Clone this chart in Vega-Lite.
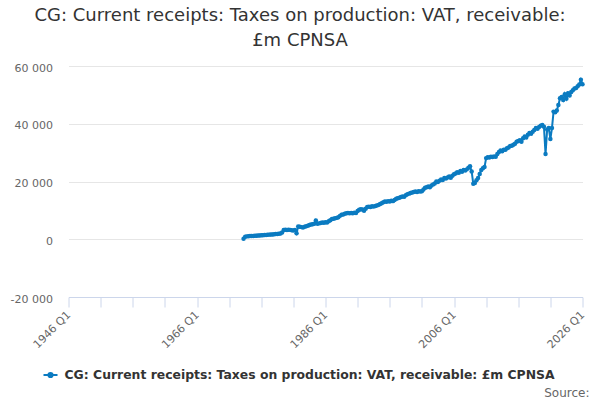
{
  "$schema": "https://vega.github.io/schema/vega-lite/v6.json",
  "autosize": {"type": "none"},
  "width": 514,
  "height": 231,
  "padding": {"left": 68.5, "top": 66, "right": 17.5, "bottom": 103},
  "background": "#ffffff",
  "config": {
    "font": "DejaVu Sans",
    "view": {"stroke": null}
  },
  "title": {
    "text": ["CG: Current receipts: Taxes on production: VAT, receivable:", "£m CPNSA"],
    "anchor": "middle",
    "frame": "group",
    "dx": -25.5,
    "offset": 12,
    "fontSize": 18,
    "fontWeight": "normal",
    "lineHeight": 25,
    "color": "#333333"
  },
  "data": {
    "values": [
      {"d": "1973-04-01", "v": 200}, {"d": "1973-07-01", "v": 900}, {"d": "1973-10-01", "v": 1000},
      {"d": "1974-01-01", "v": 1050}, {"d": "1974-04-01", "v": 1100}, {"d": "1974-07-01", "v": 1150}, {"d": "1974-10-01", "v": 1100},
      {"d": "1975-01-01", "v": 1200}, {"d": "1975-04-01", "v": 1250}, {"d": "1975-07-01", "v": 1300}, {"d": "1975-10-01", "v": 1300},
      {"d": "1976-01-01", "v": 1350}, {"d": "1976-04-01", "v": 1400}, {"d": "1976-07-01", "v": 1450}, {"d": "1976-10-01", "v": 1450},
      {"d": "1977-01-01", "v": 1550}, {"d": "1977-04-01", "v": 1600}, {"d": "1977-07-01", "v": 1650}, {"d": "1977-10-01", "v": 1650},
      {"d": "1978-01-01", "v": 1750}, {"d": "1978-04-01", "v": 1800}, {"d": "1978-07-01", "v": 1850}, {"d": "1978-10-01", "v": 1900},
      {"d": "1979-01-01", "v": 2000}, {"d": "1979-04-01", "v": 2300}, {"d": "1979-07-01", "v": 3200}, {"d": "1979-10-01", "v": 3300},
      {"d": "1980-01-01", "v": 3200}, {"d": "1980-04-01", "v": 3300}, {"d": "1980-07-01", "v": 3250}, {"d": "1980-10-01", "v": 3100},
      {"d": "1981-01-01", "v": 3000}, {"d": "1981-04-01", "v": 3200}, {"d": "1981-07-01", "v": 2100}, {"d": "1981-10-01", "v": 4400},
      {"d": "1982-01-01", "v": 4300}, {"d": "1982-04-01", "v": 4200}, {"d": "1982-07-01", "v": 4100}, {"d": "1982-10-01", "v": 4300},
      {"d": "1983-01-01", "v": 4500}, {"d": "1983-04-01", "v": 4700}, {"d": "1983-07-01", "v": 4900}, {"d": "1983-10-01", "v": 5100},
      {"d": "1984-01-01", "v": 5200}, {"d": "1984-04-01", "v": 5400}, {"d": "1984-07-01", "v": 6500}, {"d": "1984-10-01", "v": 5400},
      {"d": "1985-01-01", "v": 5500}, {"d": "1985-04-01", "v": 5600}, {"d": "1985-07-01", "v": 5800}, {"d": "1985-10-01", "v": 5700},
      {"d": "1986-01-01", "v": 5900}, {"d": "1986-04-01", "v": 5800}, {"d": "1986-07-01", "v": 6200}, {"d": "1986-10-01", "v": 6600},
      {"d": "1987-01-01", "v": 7000}, {"d": "1987-04-01", "v": 7100}, {"d": "1987-07-01", "v": 7300}, {"d": "1987-10-01", "v": 7400},
      {"d": "1988-01-01", "v": 7600}, {"d": "1988-04-01", "v": 8100}, {"d": "1988-07-01", "v": 8500}, {"d": "1988-10-01", "v": 8600},
      {"d": "1989-01-01", "v": 8800}, {"d": "1989-04-01", "v": 9000}, {"d": "1989-07-01", "v": 9100}, {"d": "1989-10-01", "v": 9000},
      {"d": "1990-01-01", "v": 9100}, {"d": "1990-04-01", "v": 9000}, {"d": "1990-07-01", "v": 9200}, {"d": "1990-10-01", "v": 9100},
      {"d": "1991-01-01", "v": 9800}, {"d": "1991-04-01", "v": 10200}, {"d": "1991-07-01", "v": 10400}, {"d": "1991-10-01", "v": 10300},
      {"d": "1992-01-01", "v": 9900}, {"d": "1992-04-01", "v": 10600}, {"d": "1992-07-01", "v": 11200}, {"d": "1992-10-01", "v": 11300},
      {"d": "1993-01-01", "v": 11200}, {"d": "1993-04-01", "v": 11400}, {"d": "1993-07-01", "v": 11300}, {"d": "1993-10-01", "v": 11500},
      {"d": "1994-01-01", "v": 11700}, {"d": "1994-04-01", "v": 11900}, {"d": "1994-07-01", "v": 12200}, {"d": "1994-10-01", "v": 12500},
      {"d": "1995-01-01", "v": 12800}, {"d": "1995-04-01", "v": 13100}, {"d": "1995-07-01", "v": 13000}, {"d": "1995-10-01", "v": 13200},
      {"d": "1996-01-01", "v": 13100}, {"d": "1996-04-01", "v": 13300}, {"d": "1996-07-01", "v": 13200}, {"d": "1996-10-01", "v": 13600},
      {"d": "1997-01-01", "v": 14000}, {"d": "1997-04-01", "v": 14200}, {"d": "1997-07-01", "v": 14400}, {"d": "1997-10-01", "v": 14600},
      {"d": "1998-01-01", "v": 14800}, {"d": "1998-04-01", "v": 14700}, {"d": "1998-07-01", "v": 15200}, {"d": "1998-10-01", "v": 15600},
      {"d": "1999-01-01", "v": 15800}, {"d": "1999-04-01", "v": 16000}, {"d": "1999-07-01", "v": 16200}, {"d": "1999-10-01", "v": 16400},
      {"d": "2000-01-01", "v": 16500}, {"d": "2000-04-01", "v": 16400}, {"d": "2000-07-01", "v": 16600}, {"d": "2000-10-01", "v": 16500},
      {"d": "2001-01-01", "v": 16600}, {"d": "2001-04-01", "v": 17200}, {"d": "2001-07-01", "v": 17800}, {"d": "2001-10-01", "v": 18000},
      {"d": "2002-01-01", "v": 18300}, {"d": "2002-04-01", "v": 18000}, {"d": "2002-07-01", "v": 18600}, {"d": "2002-10-01", "v": 19000},
      {"d": "2003-01-01", "v": 19300}, {"d": "2003-04-01", "v": 20000}, {"d": "2003-07-01", "v": 19800}, {"d": "2003-10-01", "v": 20300},
      {"d": "2004-01-01", "v": 20700}, {"d": "2004-04-01", "v": 20500}, {"d": "2004-07-01", "v": 21200}, {"d": "2004-10-01", "v": 21000},
      {"d": "2005-01-01", "v": 21400}, {"d": "2005-04-01", "v": 21700}, {"d": "2005-07-01", "v": 21300}, {"d": "2005-10-01", "v": 22000},
      {"d": "2006-01-01", "v": 22500}, {"d": "2006-04-01", "v": 22800}, {"d": "2006-07-01", "v": 23200}, {"d": "2006-10-01", "v": 23000},
      {"d": "2007-01-01", "v": 23600}, {"d": "2007-04-01", "v": 23400}, {"d": "2007-07-01", "v": 24000}, {"d": "2007-10-01", "v": 23800},
      {"d": "2008-01-01", "v": 24200}, {"d": "2008-04-01", "v": 24800}, {"d": "2008-07-01", "v": 25300}, {"d": "2008-10-01", "v": 23500},
      {"d": "2009-01-01", "v": 19200}, {"d": "2009-04-01", "v": 19500}, {"d": "2009-07-01", "v": 20400}, {"d": "2009-10-01", "v": 21200},
      {"d": "2010-01-01", "v": 22600}, {"d": "2010-04-01", "v": 24000}, {"d": "2010-07-01", "v": 24600}, {"d": "2010-10-01", "v": 25000},
      {"d": "2011-01-01", "v": 28100}, {"d": "2011-04-01", "v": 28400}, {"d": "2011-07-01", "v": 28300}, {"d": "2011-10-01", "v": 28600},
      {"d": "2012-01-01", "v": 28500}, {"d": "2012-04-01", "v": 28700}, {"d": "2012-07-01", "v": 28600}, {"d": "2012-10-01", "v": 29500},
      {"d": "2013-01-01", "v": 30200}, {"d": "2013-04-01", "v": 30700}, {"d": "2013-07-01", "v": 30500}, {"d": "2013-10-01", "v": 31000},
      {"d": "2014-01-01", "v": 31000}, {"d": "2014-04-01", "v": 31500}, {"d": "2014-07-01", "v": 31800}, {"d": "2014-10-01", "v": 32300},
      {"d": "2015-01-01", "v": 32400}, {"d": "2015-04-01", "v": 32700}, {"d": "2015-07-01", "v": 33100}, {"d": "2015-10-01", "v": 33800},
      {"d": "2016-01-01", "v": 34000}, {"d": "2016-04-01", "v": 34300}, {"d": "2016-07-01", "v": 33800}, {"d": "2016-10-01", "v": 35000},
      {"d": "2017-01-01", "v": 35600}, {"d": "2017-04-01", "v": 35200}, {"d": "2017-07-01", "v": 36200}, {"d": "2017-10-01", "v": 36800},
      {"d": "2018-01-01", "v": 36500}, {"d": "2018-04-01", "v": 37200}, {"d": "2018-07-01", "v": 37800}, {"d": "2018-10-01", "v": 38500},
      {"d": "2019-01-01", "v": 38300}, {"d": "2019-04-01", "v": 38900}, {"d": "2019-07-01", "v": 39300}, {"d": "2019-10-01", "v": 39600},
      {"d": "2020-01-01", "v": 39000}, {"d": "2020-04-01", "v": 29500}, {"d": "2020-07-01", "v": 38000}, {"d": "2020-10-01", "v": 38500},
      {"d": "2021-01-01", "v": 34700}, {"d": "2021-04-01", "v": 38500}, {"d": "2021-07-01", "v": 44200}, {"d": "2021-10-01", "v": 44000},
      {"d": "2022-01-01", "v": 44600}, {"d": "2022-04-01", "v": 46500}, {"d": "2022-07-01", "v": 48800}, {"d": "2022-10-01", "v": 49300},
      {"d": "2023-01-01", "v": 48200}, {"d": "2023-04-01", "v": 50200}, {"d": "2023-07-01", "v": 48700}, {"d": "2023-10-01", "v": 50600},
      {"d": "2024-01-01", "v": 49800}, {"d": "2024-04-01", "v": 51000}, {"d": "2024-07-01", "v": 51600}, {"d": "2024-10-01", "v": 52200},
      {"d": "2025-01-01", "v": 52400}, {"d": "2025-04-01", "v": 53000}, {"d": "2025-07-01", "v": 53600}, {"d": "2025-10-01", "v": 55200},
      {"d": "2026-01-01", "v": 53700}
    ]
  },
  "mark": {
    "type": "line",
    "strokeWidth": 2,
    "point": {"filled": true, "size": 20}
  },
  "encoding": {
    "x": {
      "field": "d",
      "type": "temporal",
      "scale": {
        "type": "utc",
        "domain": [
          {"year": 1946, "month": 1, "date": 1, "utc": true},
          {"year": 2026, "month": 1, "date": 1, "utc": true}
        ],
        "nice": false
      },
      "axis": {
        "title": "Source:",
        "titleX": 520.5,
        "titleY": 95,
        "titleAlign": "right",
        "titleBaseline": "middle",
        "titleAngle": 0,
        "titleFontSize": 12,
        "titleFontWeight": "normal",
        "titleColor": "#666666",
        "values": [
          {"year": 1946, "utc": true}, {"year": 1951, "utc": true}, {"year": 1956, "utc": true},
          {"year": 1961, "utc": true}, {"year": 1966, "utc": true}, {"year": 1971, "utc": true},
          {"year": 1976, "utc": true}, {"year": 1981, "utc": true}, {"year": 1986, "utc": true},
          {"year": 1991, "utc": true}, {"year": 1996, "utc": true}, {"year": 2001, "utc": true},
          {"year": 2006, "utc": true}, {"year": 2011, "utc": true}, {"year": 2016, "utc": true},
          {"year": 2021, "utc": true}, {"year": 2026, "utc": true}
        ],
        "labelExpr": "(utcyear(datum.value) - 1946) % 20 == 0 ? utcFormat(datum.value, '%Y') + ' Q1' : ''",
        "labelAngle": 315,
        "labelAlign": "right",
        "labelBaseline": "middle",
        "labelPadding": 6,
        "labelFontSize": 11,
        "labelColor": "#666666",
        "labelOverlap": false,
        "labelBound": false,
        "labelFlush": false,
        "grid": false,
        "domainColor": "#ccd6eb",
        "domainWidth": 1,
        "tickColor": "#ccd6eb",
        "tickSize": 10,
        "ticks": true
      }
    },
    "y": {
      "field": "v",
      "type": "quantitative",
      "scale": {"domain": [-20000, 60000], "nice": false, "zero": false},
      "axis": {
        "title": null,
        "values": [-20000, 0, 20000, 40000, 60000],
        "labelExpr": "replace(replace(format(datum.value, ','), ',', ' '), '−', '-')",
        "domain": false,
        "ticks": false,
        "grid": true,
        "gridColor": "#e6e6e6",
        "labelPadding": 16,
        "labelOffset": 2,
        "labelFontSize": 11,
        "labelColor": "#666666"
      }
    },
    "color": {
      "datum": "CG: Current receipts: Taxes on production: VAT, receivable: £m CPNSA",
      "type": "nominal",
      "scale": {"range": ["#0b7bc1"]},
      "legend": {
        "title": null,
        "orient": "none",
        "legendX": -26,
        "legendY": 301,
        "symbolType": "M-1,0H1M0.3,0A0.3,0.3,0,1,1,-0.3,0A0.3,0.3,0,1,1,0.3,0",
        "symbolSize": 196,
        "symbolStrokeWidth": 2,
        "symbolFillColor": "#0b7bc1",
        "symbolStrokeColor": "#0b7bc1",
        "symbolOpacity": 1,
        "labelFontSize": 12.4,
        "labelFontWeight": "bold",
        "labelColor": "#333333",
        "labelLimit": 600,
        "labelOffset": 6
      }
    }
  }
}
